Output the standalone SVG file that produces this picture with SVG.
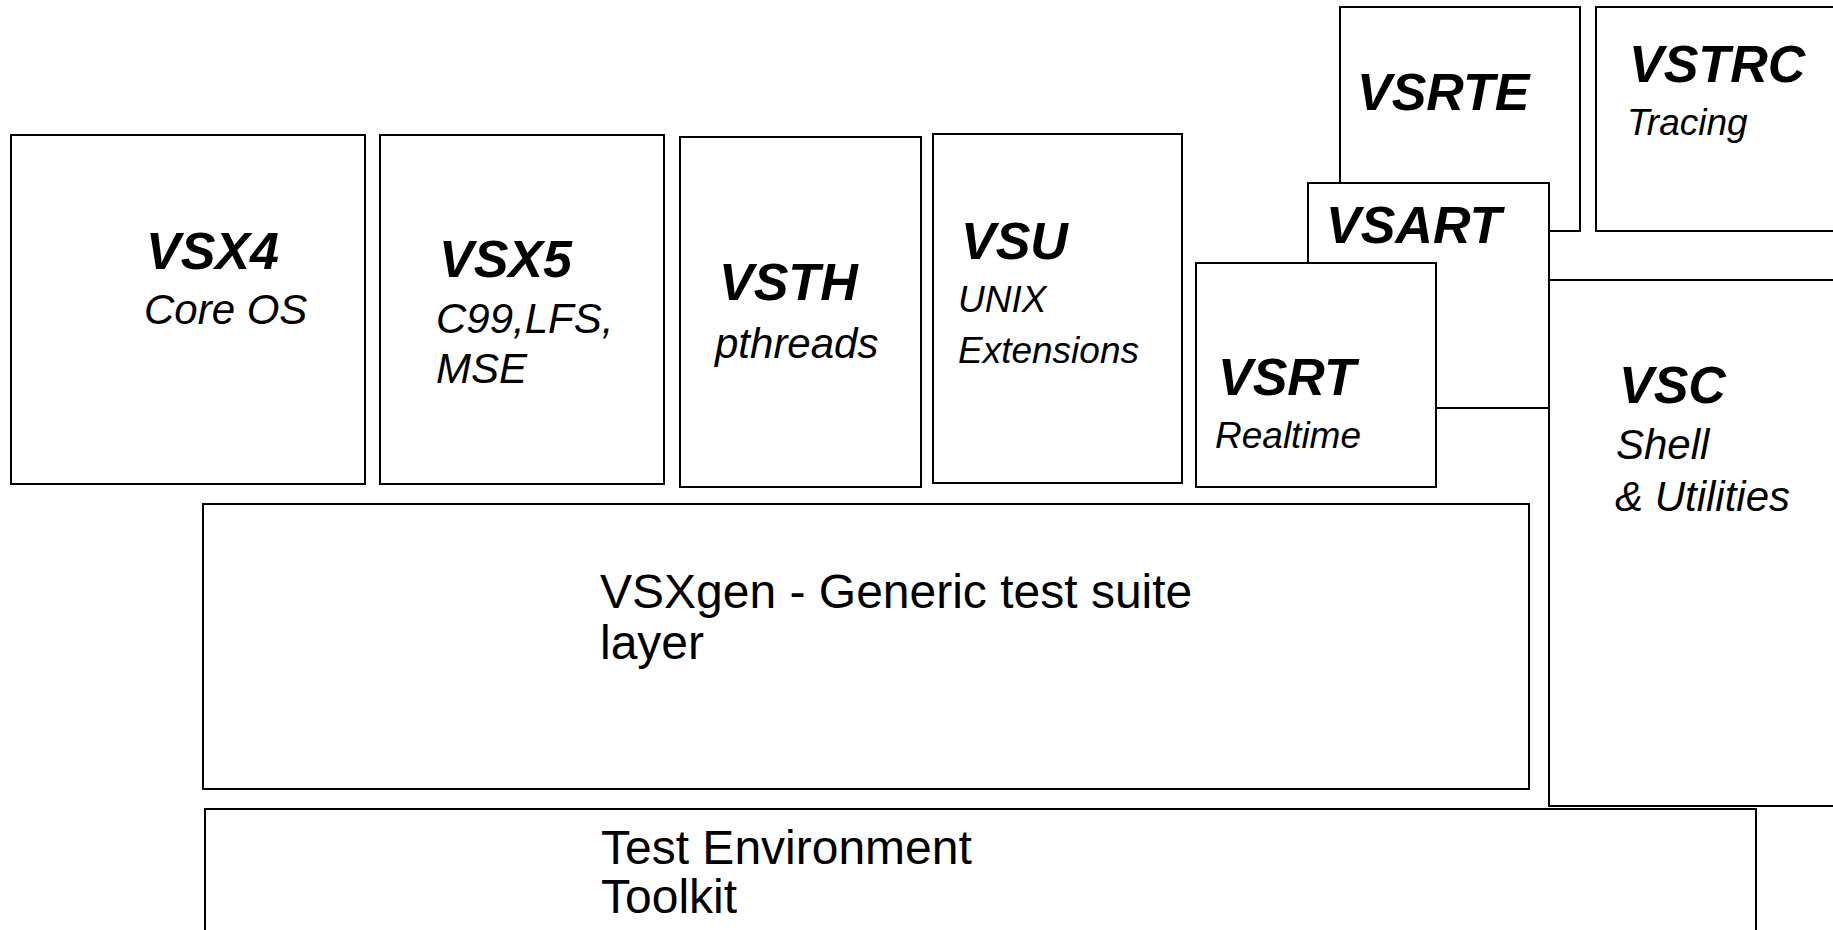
<svg xmlns="http://www.w3.org/2000/svg" width="1833" height="930" viewBox="0 0 1833 930">
<style>
  .box { fill: #ffffff; stroke: #000000; stroke-width: 2; }
  .t { font-family: "Liberation Sans", Arial, sans-serif; font-weight: bold; font-style: italic; font-size: 52px; fill: #000; }
  .s { font-family: "Liberation Sans", Arial, sans-serif; font-style: italic; font-size: 42px; fill: #000; }
  .ss { font-family: "Liberation Sans", Arial, sans-serif; font-style: italic; font-size: 37px; fill: #000; }
  .n { font-family: "Liberation Sans", Arial, sans-serif; font-size: 48px; fill: #000; }
</style>
<rect x="0" y="0" width="1833" height="930" fill="#ffffff"/>
<g id="connectors"></g>
<g id="vsx4">
  <rect class="box" x="11" y="135" width="354" height="349"/>
  <text class="t" x="146" y="269">VSX4</text>
  <text class="s" x="144" y="324">Core OS</text>
</g>
<g id="vsx5">
  <rect class="box" x="380" y="135" width="284" height="349"/>
  <text class="t" x="439" y="277">VSX5</text>
  <text class="s" x="436" y="333">C99,LFS,</text>
  <text class="s" x="436" y="383">MSE</text>
</g>
<g id="vsth">
  <rect class="box" x="680" y="137" width="241" height="350"/>
  <text class="t" x="719" y="300">VSTH</text>
  <text class="s" x="715" y="358">pthreads</text>
</g>
<g id="vsu">
  <rect class="box" x="933" y="134" width="249" height="349"/>
  <text class="t" x="961" y="259">VSU</text>
  <text class="ss" x="958" y="312">UNIX</text>
  <text class="ss" x="958" y="363">Extensions</text>
</g>
<g id="vsrte">
  <rect class="box" x="1340" y="7" width="240" height="224"/>
  <text class="t" x="1357" y="110">VSRTE</text>
</g>
<g id="vstrc">
  <rect class="box" x="1596" y="7" width="260" height="224"/>
  <text class="t" x="1629" y="82">VSTRC</text>
  <text class="ss" x="1627" y="135">Tracing</text>
</g>
<g id="vsart">
  <rect class="box" x="1308" y="183" width="241" height="225"/>
  <text class="t" x="1326" y="243">VSART</text>
</g>
<g id="vsrt">
  <rect class="box" x="1196" y="263" width="240" height="224"/>
  <text class="t" x="1218" y="395">VSRT</text>
  <text class="ss" x="1215" y="448">Realtime</text>
</g>
<g id="vsc">
  <rect class="box" x="1549" y="280" width="300" height="526"/>
  <text class="t" x="1619" y="403">VSC</text>
  <text class="s" x="1616" y="459">Shell</text>
  <text class="s" x="1615" y="511">&amp; Utilities</text>
</g>
<g id="vsxgen">
  <rect class="box" x="203" y="504" width="1326" height="285"/>
  <text class="n" x="600" y="608">VSXgen - Generic test suite</text>
  <text class="n" x="600" y="659">layer</text>
</g>
<g id="tet">
  <rect class="box" x="205" y="809" width="1551" height="140"/>
  <text class="n" x="601" y="864">Test Environment</text>
  <text class="n" x="601" y="913">Toolkit</text>
</g>
</svg>
